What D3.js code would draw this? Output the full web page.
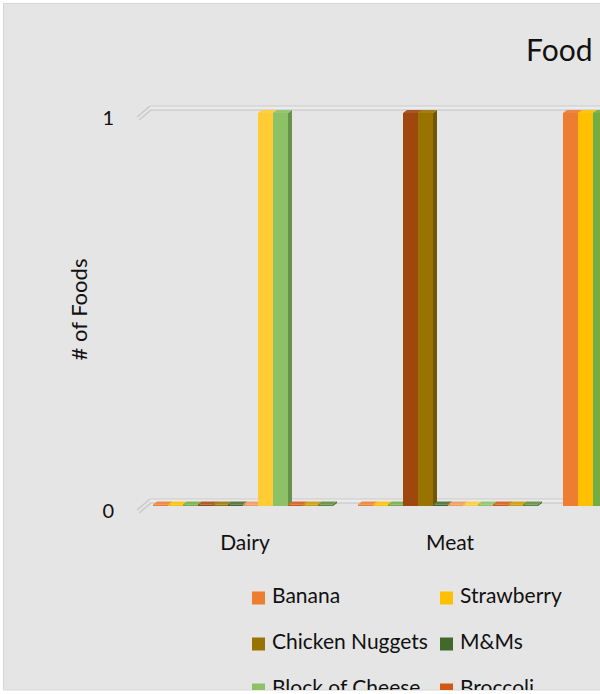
<!DOCTYPE html>
<html>
<head>
<meta charset="utf-8">
<script src="https://cdn.jsdelivr.net/npm/d3@7"></script>
<style>
  body { margin: 0; background: #fff; }
  svg { display: block; font-family: Lato, 'Open Sans', sans-serif; }
</style>
</head>
<body>
<svg id="chart" width="600" height="694"></svg>
<script>
// Data
const categories = ['Dairy', 'Meat', 'Fruit', 'Vegetables', 'Sweets']
const seriesNames = ['Banana', 'Strawberry', 'Grapes', 'Steak', 'Chicken Nuggets', 'M&Ms',
  'Carrot', 'Milk', 'Block of Cheese', 'Broccoli', 'Corn', 'Lettuce']
const seriesColors = ['#ED7D31', '#FFC000', '#70AD47', '#9E480E', '#997300', '#43682B',
  '#F1975A', '#FFCC33', '#8CC168', '#D25912', '#CC9900', '#5A8A38']
// one row per series, one value per category
const values = [
  [0, 0, 1, 0, 0],
  [0, 0, 1, 0, 0],
  [0, 0, 1, 0, 0],
  [0, 1, 0, 0, 0],
  [0, 1, 0, 0, 0],
  [0, 0, 0, 0, 1],
  [0, 0, 0, 1, 0],
  [1, 0, 0, 0, 0],
  [1, 0, 0, 0, 0],
  [0, 0, 0, 1, 0],
  [0, 0, 0, 1, 0],
  [0, 0, 0, 1, 0]
]
const yTicks = [0, 1]
const chartTitle = 'Food Groups'
const yTitle = '# of Foods'

// Layout
const bg = '#e5e5e5'
const depth = { dx: 4, dy: 3 }
const svg = d3.select('#chart')

svg.append('defs').append('clipPath').attr('id', 'area')
  .append('rect').attr('x', 4).attr('y', 4).attr('width', 1240).attr('height', 686)

svg.append('rect')
  .attr('x', 3.5).attr('y', 3.5).attr('width', 1240).attr('height', 686.5)
  .attr('fill', bg).attr('stroke', '#d6d6d6')

const g = svg.append('g').attr('clip-path', 'url(#area)')

const x = d3.scaleBand()
  .domain(categories)
  .range([140.5, 1165.5])
  .paddingInner(25 / 205)
  .paddingOuter(12.5 / 205)

const xs = d3.scaleBand()
  .domain(d3.range(seriesNames.length))
  .range([0, x.bandwidth()])

const y = d3.scaleLinear().domain([0, 1]).range([506, 113])

// Walls / gridlines
yTicks.forEach(t => {
  const yb = y(t) - 7
  g.append('rect')
    .attr('x', 150).attr('y', yb).attr('width', 1100).attr('height', 4)
    .attr('fill', '#ebebeb')
  g.append('line')
    .attr('x1', 150).attr('x2', 1250).attr('y1', yb).attr('y2', yb)
    .attr('stroke', '#cbcbcb').attr('stroke-width', 1)
  g.append('line')
    .attr('x1', 150).attr('x2', 1250).attr('y1', yb + 4).attr('y2', yb + 4)
    .attr('stroke', '#c2c2c2').attr('stroke-width', 1)
  g.append('path')
    .attr('d', `M150,${yb}L137,${yb + 11}M151,${yb + 4}L139,${yb + 14}`)
    .attr('stroke', '#c9c9c9').attr('stroke-width', 1.5).attr('fill', 'none')
})

// Bars
categories.forEach((cat, ci) => {
  seriesNames.forEach((name, si) => {
    const v = values[si][ci]
    const col = seriesColors[si]
    const x0 = x(cat) + xs(si)
    const w = xs.bandwidth()
    const y0 = y(0)
    const yv = Math.min(y(v), y0 - 1.5)
    const { dx, dy } = depth
    g.append('path') // side
      .attr('d', `M${x0 + w},${yv}L${x0 + w + dx},${yv - dy}L${x0 + w + dx},${y0 - dy}L${x0 + w},${y0}Z`)
      .attr('fill', d3.color(col).darker(0.8))
    g.append('rect') // front
      .attr('x', x0).attr('y', yv).attr('width', w).attr('height', y0 - yv)
      .attr('fill', col)
    g.append('path') // top
      .attr('d', `M${x0},${yv}L${x0 + dx},${yv - dy}L${x0 + w + dx},${yv - dy}L${x0 + w},${yv}Z`)
      .attr('fill', d3.interpolateRgb(col, bg)(v > 0 ? 0.1 : 0.15))
  })
})

// Axis labels
g.selectAll('.ytick').data(yTicks).enter().append('text')
  .attr('x', 114).attr('y', d => y(d) + 7)
  .attr('text-anchor', 'end').attr('dominant-baseline', 'middle')
  .attr('font-size', 20).attr('fill', '#111')
  .text(d => d)

g.selectAll('.xlab').data(categories).enter().append('text')
  .attr('x', d => x(d) + x.bandwidth() / 2 + 2).attr('y', 550)
  .attr('text-anchor', 'middle')
  .attr('font-size', 21).attr('fill', '#111')
  .text(d => d)

g.append('text')
  .attr('transform', `translate(87,${(y(0) + y(1)) / 2}) rotate(-90)`)
  .attr('text-anchor', 'middle')
  .attr('font-size', 22).attr('fill', '#111')
  .text(yTitle)

g.append('text')
  .attr('x', 526).attr('y', 61)
  .attr('font-size', 30).attr('fill', '#111')
  .attr('word-spacing', 6)
  .text(chartTitle)

// Legend
const legend = g.selectAll('.leg').data(seriesNames).enter().append('g')
  .attr('transform', (d, i) => `translate(${252 + (i % 4) * 188},${598 + Math.floor(i / 4) * 46})`)
legend.append('rect')
  .attr('x', 0).attr('y', -6.5).attr('width', 13).attr('height', 13)
  .attr('fill', (d, i) => seriesColors[i])
legend.append('text')
  .attr('x', 20).attr('y', 0)
  .attr('dominant-baseline', 'middle')
  .attr('font-size', 21).attr('fill', '#111')
  .text(d => d)
</script>
</body>
</html>
